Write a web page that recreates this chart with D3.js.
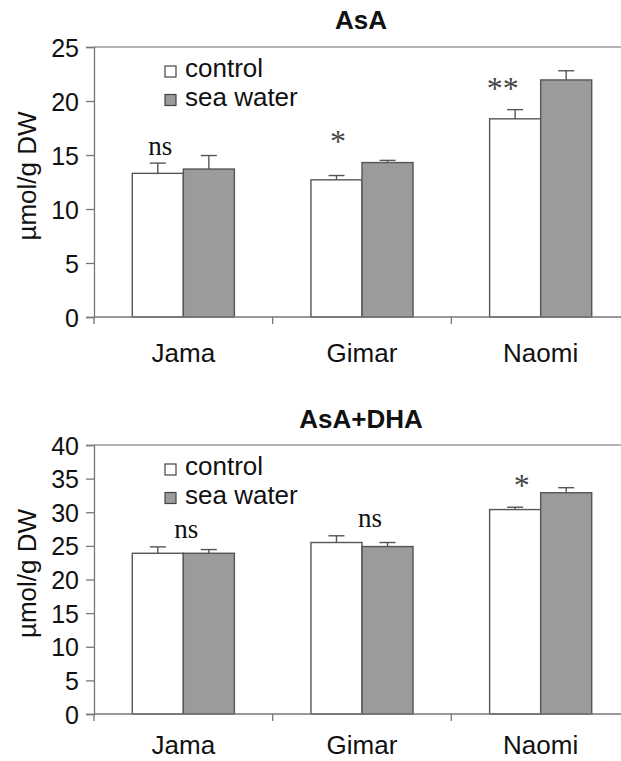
<!DOCTYPE html>
<html>
<head>
<meta charset="utf-8">
<script src="https://cdn.jsdelivr.net/npm/d3@7"></script>
<style>
  html, body { margin: 0; padding: 0; background: #fff; }
  svg { display: block; }
  text { font-family: "Liberation Sans", Arial, sans-serif; fill: #111; }
</style>
</head>
<body>
<svg id="chart" width="621" height="761"></svg>
<script>
// Ascorbate content (µmol/g DW) of three cultivars, control vs sea-water irrigation
const categories = ["Jama", "Gimar", "Naomi"];
const seriesNames = ["control", "sea water"];

const asaControl    = [13.3, 12.7, 18.35];
const asaControlErr = [0.95, 0.4, 0.85];
const asaSea        = [13.7, 14.3, 21.95];
const asaSeaErr     = [1.25, 0.2, 0.85];
const asaSig        = ["ns", "*", "**"];
const asaTicks      = [0, 5, 10, 15, 20, 25];

const totalControl    = [23.9, 25.5, 30.4];
const totalControlErr = [0.95, 1.0, 0.35];
const totalSea        = [23.9, 24.9, 32.9];
const totalSeaErr     = [0.55, 0.6, 0.75];
const totalSig        = ["ns", "ns", "*"];
const totalTicks      = [0, 5, 10, 15, 20, 25, 30, 35, 40];

const fills = { "control": "#ffffff", "sea water": "#9b9b9b" };
const svg = d3.select("#chart");

function panel(opt) {
  const { title, control, controlErr, sea, seaErr, sig, ticks, top, bottom, titleY, labelY, legendY, sigPlace } = opt;
  const left = 94, right = 630;
  const g = svg.append("g");

  const x0 = d3.scaleBand().domain(categories).range([left, right]).padding(0);
  const x1 = d3.scaleBand().domain(seriesNames).range([0, x0.bandwidth()])
    .paddingInner(0).paddingOuter(0.75);
  const y = d3.scaleLinear().domain([0, d3.max(ticks)]).range([bottom, top]);

  // plot area top border
  g.append("line").attr("x1", left).attr("x2", 621).attr("y1", top).attr("y2", top)
    .attr("stroke", "#9a9a9a").attr("stroke-width", 1.3);

  // title
  g.append("text").attr("x", 361).attr("y", titleY).attr("text-anchor", "middle")
    .style("font-weight", "bold").style("font-size", "26px").text(title);

  // bars
  const rows = categories.map((c, i) => ({
    cat: c,
    vals: [
      { s: "control", v: control[i], e: controlErr[i] },
      { s: "sea water", v: sea[i], e: seaErr[i] }
    ]
  }));
  const cg = g.selectAll("g.cat").data(rows).join("g").attr("class", "cat")
    .attr("transform", d => `translate(${x0(d.cat)},0)`);

  // error bars (upper half with cap)
  cg.selectAll("g.err").data(d => d.vals).join("g").attr("class", "err")
    .each(function(d) {
      const cx = x1(d.s) + x1.bandwidth() / 2;
      const s = d3.select(this);
      s.append("line").attr("x1", cx).attr("x2", cx).attr("y1", y(d.v)).attr("y2", y(d.v + d.e))
        .attr("stroke", "#555").attr("stroke-width", 1.4);
      s.append("line").attr("x1", cx - 8).attr("x2", cx + 8).attr("y1", y(d.v + d.e)).attr("y2", y(d.v + d.e))
        .attr("stroke", "#555").attr("stroke-width", 1.4);
    });

  cg.selectAll("rect").data(d => d.vals).join("rect")
    .attr("x", d => x1(d.s)).attr("width", x1.bandwidth())
    .attr("y", d => y(d.v)).attr("height", d => y(0) - y(d.v))
    .attr("fill", d => fills[d.s]).attr("stroke", "#555").attr("stroke-width", 1.4);

  // significance marks
  rows.forEach((r, i) => {
    const p = sigPlace[i];
    const cx = x0(r.cat) + x0.bandwidth() / 2 + p.dx;
    const yTop = y(control[i] + controlErr[i]) - p.dy;
    const isNs = sig[i] === "ns";
    g.append("text").attr("x", cx).attr("y", yTop).attr("text-anchor", "middle")
      .style("font-family", "'Liberation Serif', 'Times New Roman', serif")
      .style("font-size", isNs ? "27px" : "32px").style("fill", isNs ? "#111" : "#444")
      .text(sig[i]);
  });

  // y axis
  const ya = g.append("g").attr("transform", `translate(${left},0)`)
    .call(d3.axisLeft(y).tickValues(ticks).tickSize(8).tickPadding(7).tickFormat(d3.format("d")));
  ya.select(".domain").attr("stroke", "#777").attr("stroke-width", 1.3);
  ya.selectAll(".tick line").attr("stroke", "#777").attr("stroke-width", 1.3);
  ya.selectAll(".tick text").style("font-size", "25px")
    .style("font-family", "'Liberation Sans', Arial, sans-serif")
    .attr("dy", "0.36em").style("fill", "#111");

  // x axis: baseline plus ticks at category boundaries
  g.append("line").attr("x1", left).attr("x2", 621).attr("y1", bottom).attr("y2", bottom)
    .attr("stroke", "#777").attr("stroke-width", 1.3);
  categories.forEach(c => {
    g.append("line").attr("x1", x0(c)).attr("x2", x0(c)).attr("y1", bottom).attr("y2", bottom + 7)
      .attr("stroke", "#777").attr("stroke-width", 1.3);
    g.append("text").attr("x", x0(c) + x0.bandwidth() / 2).attr("y", labelY)
      .attr("text-anchor", "middle").style("font-size", "26px").text(c);
  });

  // y axis title
  g.append("text").attr("transform", `translate(36,${(top + bottom) / 2 - 6}) rotate(-90)`)
    .attr("text-anchor", "middle").style("font-size", "26px").text("µmol/g DW");

  // legend
  seriesNames.forEach((s, i) => {
    const ly = legendY + i * 28.5;
    g.append("rect").attr("x", 165).attr("y", ly - 11).attr("width", 11).attr("height", 11)
      .attr("fill", fills[s]).attr("stroke", "#444").attr("stroke-width", 1.2);
    g.append("text").attr("x", 185).attr("y", ly).style("font-size", "26px").text(s);
  });
}

panel({
  title: "AsA", control: asaControl, controlErr: asaControlErr, sea: asaSea, seaErr: asaSeaErr,
  sig: asaSig, ticks: asaTicks, top: 47, bottom: 317, titleY: 29, labelY: 362, legendY: 77,
  sigPlace: [{ dx: -23, dy: 8 }, { dx: -24, dy: 24 }, { dx: -38, dy: 11 }]
});

panel({
  title: "AsA+DHA", control: totalControl, controlErr: totalControlErr, sea: totalSea, seaErr: totalSeaErr,
  sig: totalSig, ticks: totalTicks, top: 445, bottom: 714, titleY: 428, labelY: 754, legendY: 475,
  sigPlace: [{ dx: 3, dy: 9 }, { dx: 8, dy: 9 }, { dx: -19, dy: 11 }]
});
</script>
</body>
</html>
